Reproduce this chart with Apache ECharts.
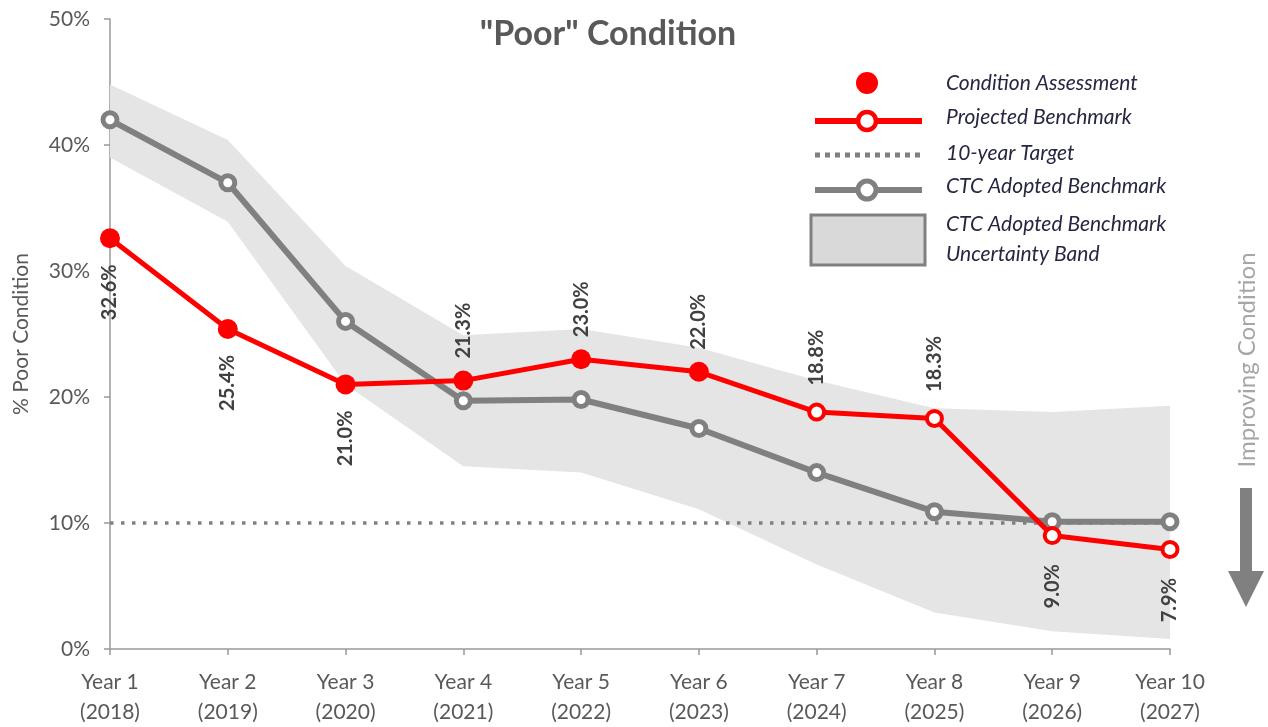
<!DOCTYPE html>
<html>
<head>
<meta charset="utf-8">
<script src="https://cdn.jsdelivr.net/npm/echarts@6/dist/echarts.min.js"></script>
<style>
html,body{margin:0;padding:0;background:#fff;}
#chart{width:1268px;height:727px;}
</style>
</head>
<body>
<div id="chart"></div>
<script>
// ---- data ----
const categories = ['Year 1\n(2018)','Year 2\n(2019)','Year 3\n(2020)','Year 4\n(2021)','Year 5\n(2022)','Year 6\n(2023)','Year 7\n(2024)','Year 8\n(2025)','Year 9\n(2026)','Year 10\n(2027)'];
const projectedValues = [32.6, 25.4, 21.0, 21.3, 23.0, 22.0, 18.8, 18.3, 9.0, 7.9];
const assessedCount = 6; // first 6 points are condition assessments
const ctcValues = [42.0, 37.0, 26.0, 19.7, 19.8, 17.5, 14.0, 10.9, 10.1, 10.1];
const bandUpper = [44.8, 40.4, 30.4, 24.9, 25.4, 23.9, 21.3, 19.1, 18.8, 19.3];
const bandLower = [39.0, 33.9, 21.0, 14.5, 14.0, 11.1, 6.7, 2.9, 1.4, 0.8];
const targetValues = [10, 10, 10, 10, 10, 10, 10, 10, 10, 10];
const yTicks = [0, 10, 20, 30, 40, 50];

// ---- config (not data) ----
const labelBelow = [0, 1, 2, 8, 9];
const RED = '#ff0000', GREY = '#808080';
const FONT = 'Lato';

const bandDiff = bandUpper.map((u, i) => +(u - bandLower[i]).toFixed(2));

const redData = projectedValues.map((v, i) => {
  const filled = i < assessedCount;
  const below = labelBelow.indexOf(i) >= 0;
  return {
    value: v,
    symbolSize: filled ? 20 : 15,
    itemStyle: filled ? { color: RED, borderWidth: 0 } : { color: '#fff', borderColor: RED, borderWidth: 4 },
    label: {
      show: true,
      position: below ? 'bottom' : 'top',
      distance: below ? (filled ? 16 : 19) : (filled ? 12 : 17),
      rotate: 90,
      align: below ? 'right' : 'left',
      verticalAlign: 'middle',
      formatter: v.toFixed(1) + '%',
      color: '#404040',
      fontSize: 20,
      fontWeight: 'bold',
      fontFamily: FONT
    }
  };
});

const chart = echarts.init(document.getElementById('chart'), null, { renderer: 'canvas' });

const legendText = (t, y) => ({
  type: 'text', left: 946, top: y - 12,
  style: { text: t, fill: '#262641', font: 'italic 21px ' + FONT }
});

const option = {
  animation: false,
  backgroundColor: '#fff',
  title: {
    text: '"Poor" Condition',
    left: 603, top: 12, textAlign: 'center',
    textStyle: { color: '#595959', fontSize: 34, fontWeight: 'bold', fontFamily: FONT }
  },
  grid: { left: 110, right: 98, top: 19, bottom: 77, containLabel: false },
  xAxis: {
    type: 'category',
    data: categories,
    boundaryGap: false,
    axisLine: { lineStyle: { color: '#999', width: 1.5 } },
    axisTick: { show: true, length: 6, lineStyle: { color: '#999', width: 1.5 } },
    axisLabel: { color: '#595959', fontSize: 21, lineHeight: 30, margin: 18, fontFamily: FONT, interval: 0 },
    splitLine: { show: false }
  },
  yAxis: {
    type: 'value',
    min: yTicks[0], max: yTicks[yTicks.length - 1], interval: 10,
    name: '% Poor Condition',
    nameLocation: 'middle',
    nameGap: 78,
    nameTextStyle: { color: '#595959', fontSize: 21, fontFamily: FONT },
    axisLine: { show: true, lineStyle: { color: '#999', width: 1.5 } },
    axisTick: { show: true, length: 6, lineStyle: { color: '#999', width: 1.5 } },
    axisLabel: { color: '#595959', fontSize: 21, margin: 20, fontFamily: FONT, formatter: '{value}%' },
    splitLine: { show: false }
  },
  series: [
    {
      name: 'bandLower', type: 'line', stack: 'band', data: bandLower,
      symbol: 'none', lineStyle: { opacity: 0 }, silent: true, z: 1
    },
    {
      name: 'CTC Adopted Benchmark Uncertainty Band', type: 'line', stack: 'band', data: bandDiff,
      symbol: 'none', lineStyle: { opacity: 0 }, areaStyle: { color: '#e5e5e5', opacity: 1 }, silent: true, z: 1
    },
    {
      name: '10-year Target', type: 'line', data: targetValues,
      symbol: 'none', lineStyle: { color: GREY, width: 3.5, type: [3.5, 7.5], cap: 'butt' }, z: 2
    },
    {
      name: 'CTC Adopted Benchmark', type: 'line', data: ctcValues,
      symbol: 'circle', symbolSize: 14,
      itemStyle: { color: '#fff', borderColor: GREY, borderWidth: 5 },
      lineStyle: { color: GREY, width: 6 }, z: 3
    },
    {
      name: 'Projected Benchmark', type: 'line', data: redData,
      symbol: 'circle',
      lineStyle: { color: RED, width: 5 }, z: 4
    }
  ],
  graphic: [
    // legend
    { type: 'circle', shape: { cx: 867, cy: 83, r: 11 }, style: { fill: RED } },
    { type: 'line', shape: { x1: 815, y1: 121, x2: 922, y2: 121 }, style: { stroke: RED, lineWidth: 6 } },
    { type: 'circle', shape: { cx: 867, cy: 121, r: 9 }, style: { fill: '#fff', stroke: RED, lineWidth: 4.5 } },
    { type: 'line', shape: { x1: 815, y1: 155, x2: 922, y2: 155 }, style: { stroke: GREY, lineWidth: 5, lineDash: [5, 5] } },
    { type: 'line', shape: { x1: 815, y1: 190, x2: 922, y2: 190 }, style: { stroke: GREY, lineWidth: 6 } },
    { type: 'circle', shape: { cx: 867, cy: 190, r: 9 }, style: { fill: '#fff', stroke: GREY, lineWidth: 5 } },
    { type: 'rect', shape: { x: 811, y: 215, width: 114, height: 50 }, style: { fill: '#d9d9d9', stroke: GREY, lineWidth: 3 } },
    legendText('Condition Assessment', 85),
    legendText('Projected Benchmark', 119),
    legendText('10-year Target', 155),
    legendText('CTC Adopted Benchmark', 188),
    legendText('CTC Adopted Benchmark', 226),
    legendText('Uncertainty Band', 256),
    // improving condition arrow
    {
      type: 'text', x: 1247, y: 360, rotation: Math.PI / 2,
      style: { text: 'Improving Condition', fill: '#a6a6a6', font: '24px ' + FONT, textAlign: 'center', textVerticalAlign: 'middle' }
    },
    { type: 'rect', shape: { x: 1240, y: 488, width: 12, height: 84 }, style: { fill: GREY } },
    { type: 'polygon', shape: { points: [[1228, 571], [1264, 571], [1246, 607]] }, style: { fill: GREY } }
  ]
};
chart.setOption(option);
</script>
</body>
</html>
